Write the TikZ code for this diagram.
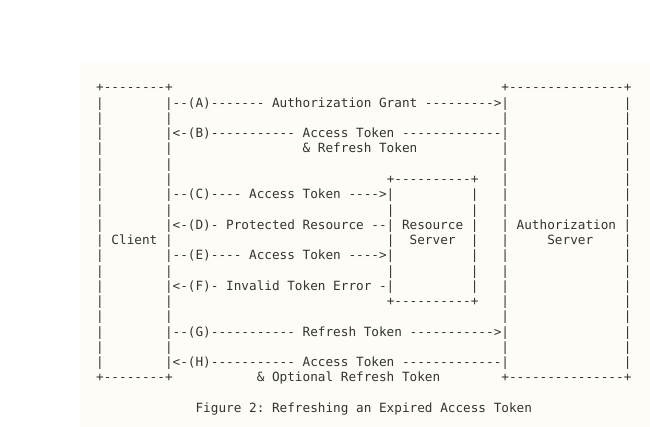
\documentclass[tikz,border=0pt]{standalone}
\usepackage{fontspec}
\setmonofont{DejaVu Sans Mono}
\usepackage{tikz}
\definecolor{paper}{HTML}{FDFCF6}
\definecolor{ink}{HTML}{333333}
% blank run of n character cells
\newcommand\gap[1]{\hspace*{#1\fontcharwd\font`x}}
\tikzset{
  asciirow/.style={anchor=base west, inner sep=0pt, text=ink,
    font=\ttfamily\frenchspacing\fontsize{12.7}{15.3}\selectfont}
}

\begin{document}
\begin{tikzpicture}[x=1pt, y=-1pt]
\useasboundingbox (0,0) rectangle (650,427);
\fill[paper] (80,63) rectangle (650,427);

\node[asciirow] (r1) at (96,92.0) {+--------+\gap{43}+---------------+};
\node[asciirow] (r2) at (96,107.3) {|\gap{8}|--(A)------- Authorization Grant --------->|\gap{15}|};
\node[asciirow] (r3) at (96,122.5) {|\gap{8}|\gap{43}|\gap{15}|};
\node[asciirow] (r4) at (96,137.8) {|\gap{8}|<-(B)----------- Access Token -------------|\gap{15}|};
\node[asciirow] (r5) at (96,153.0) {|\gap{8}|\gap{17}\& Refresh Token\gap{11}|\gap{15}|};
\node[asciirow] (r6) at (96,168.3) {|\gap{8}|\gap{43}|\gap{15}|};
\node[asciirow] (r7) at (96,183.6) {|\gap{8}|\gap{28}+----------+\gap{3}|\gap{15}|};
\node[asciirow] (r8) at (96,198.8) {|\gap{8}|--(C)---- Access Token ---->|\gap{10}|\gap{3}|\gap{15}|};
\node[asciirow] (r9) at (96,214.1) {|\gap{8}|\gap{28}|\gap{10}|\gap{3}|\gap{15}|};
\node[asciirow] (r10) at (96,229.3) {|\gap{8}|<-(D)- Protected Resource --| Resource |\gap{3}| Authorization |};
\node[asciirow] (r11) at (96,244.6) {| Client |\gap{28}|\gap{2}Server\gap{2}|\gap{3}|\gap{5}Server\gap{4}|};
\node[asciirow] (r12) at (96,259.9) {|\gap{8}|--(E)---- Access Token ---->|\gap{10}|\gap{3}|\gap{15}|};
\node[asciirow] (r13) at (96,275.1) {|\gap{8}|\gap{28}|\gap{10}|\gap{3}|\gap{15}|};
\node[asciirow] (r14) at (96,290.4) {|\gap{8}|<-(F)- Invalid Token Error -|\gap{10}|\gap{3}|\gap{15}|};
\node[asciirow] (r15) at (96,305.6) {|\gap{8}|\gap{28}+----------+\gap{3}|\gap{15}|};
\node[asciirow] (r16) at (96,320.9) {|\gap{8}|\gap{43}|\gap{15}|};
\node[asciirow] (r17) at (96,336.2) {|\gap{8}|--(G)----------- Refresh Token ----------->|\gap{15}|};
\node[asciirow] (r18) at (96,351.4) {|\gap{8}|\gap{43}|\gap{15}|};
\node[asciirow] (r19) at (96,366.7) {|\gap{8}|<-(H)----------- Access Token -------------|\gap{15}|};
\node[asciirow] (r20) at (96,381.9) {+--------+\gap{11}\& Optional Refresh Token\gap{8}+---------------+};

\node[asciirow] (caption) at (195.4,412.5) {Figure 2: Refreshing an Expired Access Token};
\end{tikzpicture}
\end{document}
